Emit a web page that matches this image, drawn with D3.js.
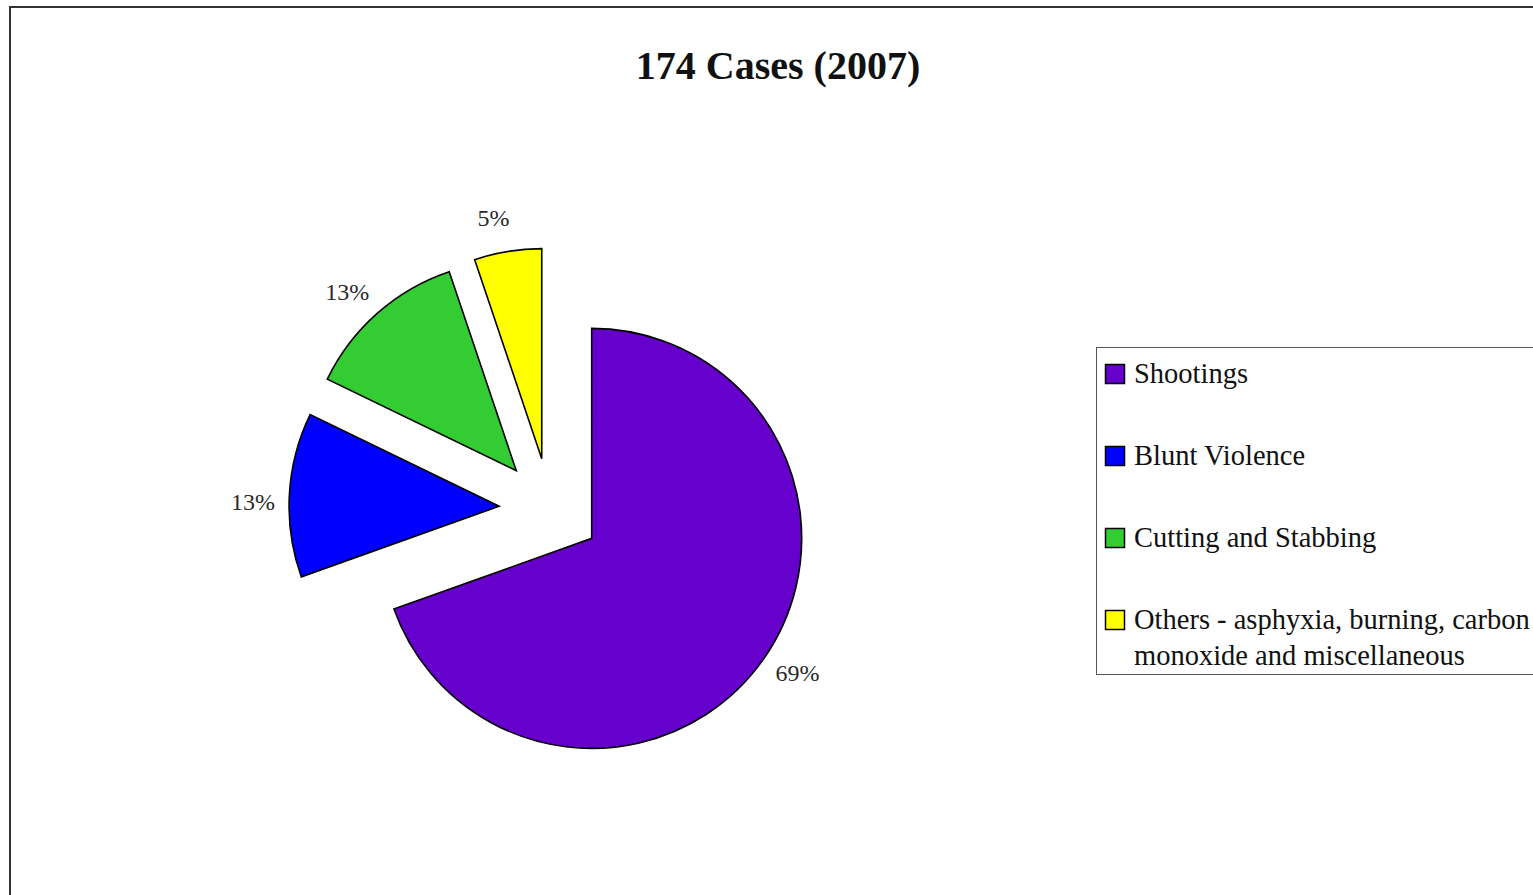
<!DOCTYPE html>
<html>
<head>
<meta charset="utf-8">
<script src="https://cdn.jsdelivr.net/npm/d3@7"></script>
<style>
  html, body { margin: 0; padding: 0; background: #fff; overflow: hidden; }
  #chart { width: 1533px; height: 895px; }
  text { font-family: "Liberation Serif", "DejaVu Serif", serif; }
</style>
</head>
<body>
<div id="chart"></div>
<script>
const chartEl = document.getElementById('chart');
const W = 1533, H = 895;

// data
const title = '174 Cases (2007)';
const categories = ['Shootings', 'Blunt Violence', 'Cutting and Stabbing', 'Others - asphyxia, burning, carbon monoxide and miscellaneous'];
const legendLines = [
  ['Shootings'],
  ['Blunt Violence'],
  ['Cutting and Stabbing'],
  ['Others - asphyxia, burning, carbon', 'monoxide and miscellaneous']
];
const cases = [121, 22, 22, 9];
const pctLabels = ['69%', '13%', '13%', '5%'];
const colors = ['#6600cc', '#0000ff', '#33cc33', '#ffff00'];

const svg = d3.select('#chart')
  .append('svg')
  .attr('width', W)
  .attr('height', H);

// outer chart frame (runs past the right and bottom edges)
svg.append('rect')
  .attr('x', 10).attr('y', 7)
  .attr('width', W + 20).attr('height', H + 20)
  .attr('fill', '#fff')
  .attr('stroke', '#333')
  .attr('stroke-width', 2);

svg.append('text')
  .attr('x', 778)
  .attr('y', 79)
  .attr('text-anchor', 'middle')
  .attr('font-size', 40)
  .attr('font-weight', 'bold')
  .attr('fill', '#111')
  .text(title);

const cx = 550, cy = 509;
const radius = 210;
const explode = 51;
const labelRadius = 246;
const labelShift = -0.035; // labels sit a touch counter-clockwise of the bisector

const pie = d3.pie().sort(null).value(d => d.value);
const arcs = pie(cases.map((v, i) => ({ value: v, name: categories[i], i })));
const arc = d3.arc().innerRadius(0).outerRadius(radius);

const mid = d => (d.startAngle + d.endAngle) / 2;
const dirX = a => Math.sin(a);
const dirY = a => -Math.cos(a);

const pieG = svg.append('g').attr('transform', `translate(${cx},${cy})`);

const slice = pieG.selectAll('g.slice')
  .data(arcs)
  .join('g')
  .attr('class', 'slice')
  .attr('transform', d => `translate(${dirX(mid(d)) * explode},${dirY(mid(d)) * explode})`);

slice.append('path')
  .attr('d', arc)
  .attr('fill', d => colors[d.data.i])
  .attr('stroke', '#000')
  .attr('stroke-width', 1.6)
  .attr('stroke-linejoin', 'miter');

slice.append('text')
  .attr('x', d => dirX(mid(d) + labelShift) * labelRadius)
  .attr('y', d => dirY(mid(d) + labelShift) * labelRadius)
  .attr('dy', '0.35em')
  .attr('text-anchor', 'middle')
  .attr('font-size', 24)
  .attr('fill', '#2a2a2a')
  .text(d => pctLabels[d.data.i]);

// legend
const legend = svg.append('g');
legend.append('rect')
  .attr('x', 1096.5).attr('y', 347.5)
  .attr('width', 500).attr('height', 327)
  .attr('fill', '#fff')
  .attr('stroke', '#555')
  .attr('stroke-width', 1);

const item = legend.selectAll('g.item')
  .data(legendLines)
  .join('g')
  .attr('class', 'item')
  .attr('transform', (d, i) => `translate(1105,${374 + i * 82})`);

item.append('rect')
  .attr('x', 0.5).attr('y', -9.5)
  .attr('width', 19).attr('height', 19)
  .attr('fill', (d, i) => colors[i])
  .attr('stroke', '#000')
  .attr('stroke-width', 1.5);

item.append('text')
  .attr('font-size', 28.5)
  .attr('fill', '#111')
  .selectAll('tspan')
  .data(d => d)
  .join('tspan')
  .attr('x', 29)
  .attr('y', (d, j) => 9 + j * 36)
  .text(d => d);
</script>
</body>
</html>
